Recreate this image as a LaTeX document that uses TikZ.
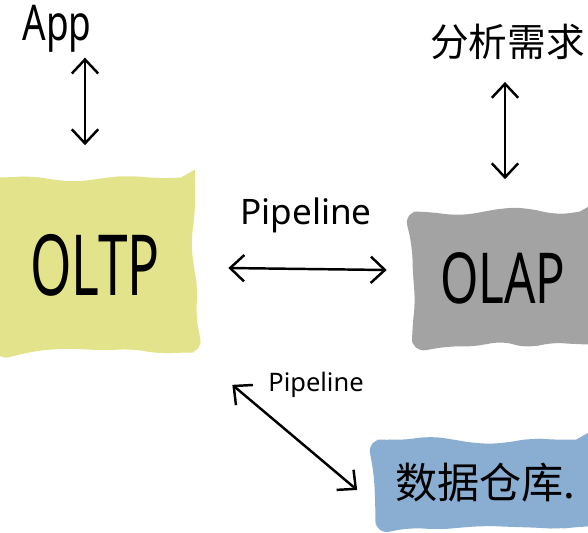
\documentclass[tikz,border=0pt]{standalone}
\usepackage{fontspec}
\setmainfont{Noto Sans}
\newfontfamily\cjk{Noto Sans CJK SC}
\usetikzlibrary{positioning,arrows.meta,calc,decorations.pathmorphing}
\definecolor{oltpYellow}{HTML}{E3E38C}
\definecolor{olapGray}{HTML}{A3A3A3}
\definecolor{dwBlue}{HTML}{8AADD2}

\begin{document}
\begin{tikzpicture}[x=0.02cm, y=-0.02cm, >={Straight Barb[length=8pt,width=15pt]},
          blob/.style={fill=#1, rounded corners=8pt, inner sep=0pt, decorate,
            decoration={random steps, segment length=14pt, amplitude=2.5pt}},
          link/.style={<->, line width=1.4pt, line cap=round},
          hand/.style={inner sep=1pt}]
        \useasboundingbox (0,0) rectangle (588,532);
        \pgfmathsetseed{7}
        \node[blob=oltpYellow, minimum width=4cm, minimum height=3.5cm] (oltp) at (95,265) {\fontsize{48}{50}\selectfont\scalebox{0.63}[1]{OLTP}};
        \node[blob=olapGray, minimum width=3.64cm, minimum height=2.66cm] (olap) at (503,278) {\fontsize{40}{42}\selectfont\scalebox{0.7}[1]{OLAP}};
        \node[blob=dwBlue, minimum width=4.3cm, minimum height=1.74cm] (dw) at (483,483) {};
        \node[hand, anchor=west] (dwtext) at (393,483) {\cjk\fontsize{24}{26}\selectfont 数据仓库.};
        \node[hand] (app) at (57,29) {\fontsize{28}{30}\selectfont\scalebox{0.75}[1]{App}};
        \node[hand, anchor=west] (ana) at (428,42) {\cjk\fontsize{22}{24}\selectfont 分析需求};
        \node[hand] (pipe1) at (306,215) {\fontsize{20}{22}\selectfont Pipeline};
        \node[hand] (pipe2) at (316,385) {\fontsize{14.5}{16}\selectfont Pipeline};
        % connectors
        \draw[link] ($(app.south)+(28,3)$) -- ($(oltp.north)+(-10,-32)$);
        \draw[link] ($(ana.south west)+(77,20)$) -- ($(olap.north)+(2,-32)$);
        \draw[link] ($(oltp.east)+(33,3)$) -- ($(olap.west)+(-25,-8)$);
        \draw[link] ($(oltp.south east)+(37,32)$) -- ($(dw.west)+(-18,7)$);
      \end{tikzpicture}
\end{document}
